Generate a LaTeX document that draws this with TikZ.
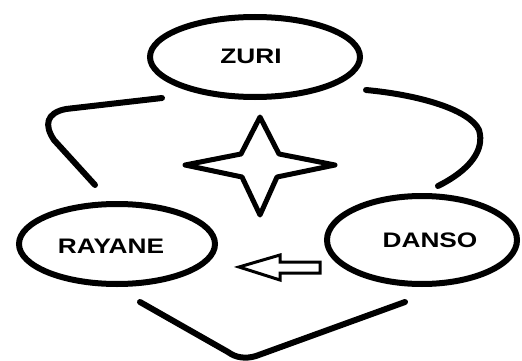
\documentclass[tikz,border=0pt]{standalone}
\usepackage{fontspec}
\setmainfont{Liberation Sans}
\usetikzlibrary{shapes.geometric}
\tikzset{
  oval/.style={draw, ellipse, line width=6pt, inner sep=0pt},
  lbl/.style={font=\bfseries\fontsize{21}{21}\selectfont},
  link/.style={line width=6pt, line cap=round, line join=round},
}
\newcommand{\wide}[1]{\scalebox{1.25}[1]{#1}}
\begin{document}
\begin{tikzpicture}[x=1pt,y=-1pt]
  \useasboundingbox (0,0) rectangle (522,361);
  % the three name ovals
  \node[oval, minimum width=210pt, minimum height=80pt] (zuri) at (255,57) {};
  \node[lbl] (tz) at (251,56) {\wide{ZURI}};
  \node[oval, minimum width=196pt, minimum height=80pt] (rayane) at (117,244) {};
  \node[lbl] (tr) at (111,246) {\wide{RAYANE}};
  \node[oval, minimum width=190pt, minimum height=88pt] (danso) at (422,240) {};
  \node[lbl] (td) at (430,240) {\wide{DANSO}};
  % loose ends of the curved links
  \coordinate (l1) at (162,98);
  \coordinate (l2) at (95,185);
  \coordinate (r1) at (366,90);
  \coordinate (r2) at (438,186);
  \coordinate (b1) at (140,302);
  \coordinate (b2) at (405,302);
  % curved links between the ovals
  \draw[link] (l1) -- (66,109) .. controls (46,113) and (44,125) .. (54,140) -- (l2);
  \draw[link] (r1) .. controls (420,95) and (470,110) .. (479,130)
              .. controls (485,150) and (470,170) .. (r2);
  \draw[link] (b1) -- (228,352) .. controls (236,358) and (246,359) .. (256,356) -- (b2);
  % four-pointed star
  \draw[line width=5pt, line join=round]
    (260,117) -- (279,154) -- (335,165) -- (277,177) -- (260,215)
    -- (242,177) -- (185,165) -- (241,154) -- cycle;
  % hollow arrow pointing left
  \draw[line width=3pt, line join=miter]
    (320,262) -- (280,262) -- (280,255) -- (239,267) -- (280,280)
    -- (280,273) -- (320,273) -- cycle;
\end{tikzpicture}
\end{document}
